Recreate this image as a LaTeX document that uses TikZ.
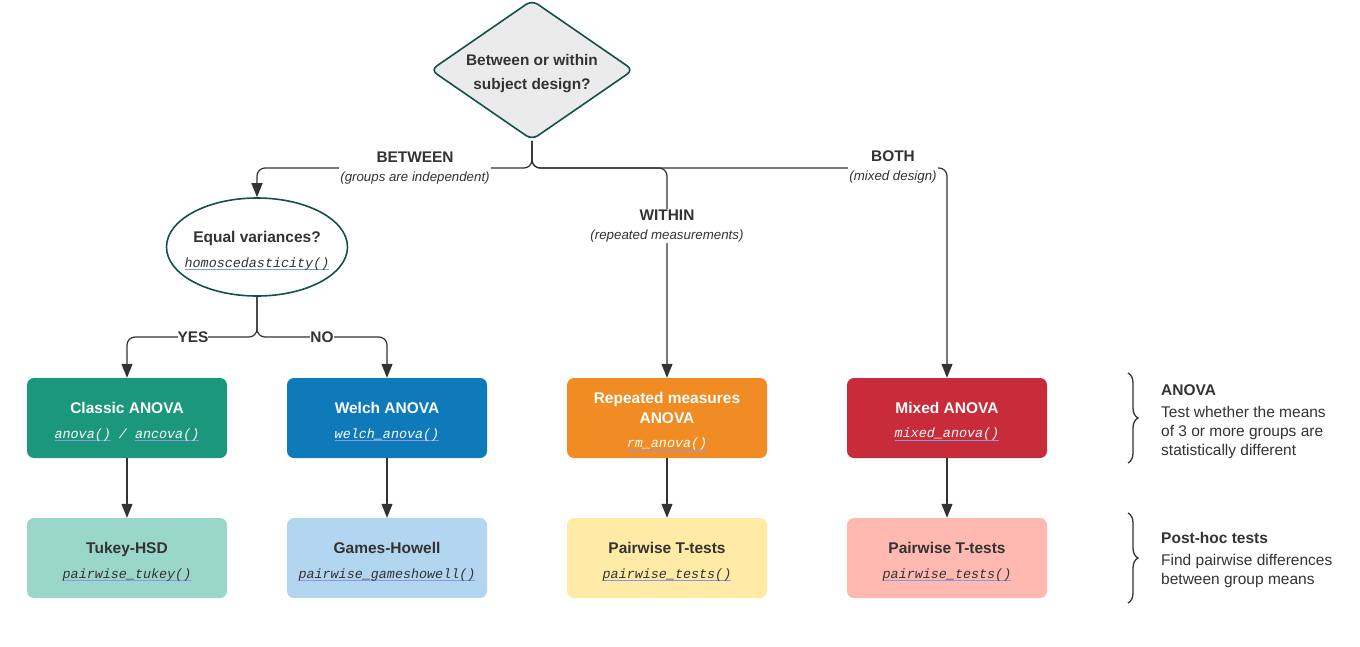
\documentclass[tikz,border=0pt]{standalone}
\usepackage{fontspec}
\setmainfont{Liberation Sans}
\newfontfamily\codefamily{Liberation Mono}
\usetikzlibrary{shapes.geometric,arrows.meta,decorations.pathreplacing}
\definecolor{ink}{HTML}{333333}
\definecolor{ulblue}{HTML}{8C96E6}
\definecolor{dgreen}{HTML}{11514A}
\definecolor{diafill}{HTML}{EBEBEB}
\definecolor{cteal}{HTML}{1B987C}
\definecolor{cblue}{HTML}{0E7AB9}
\definecolor{corange}{HTML}{F08C23}
\definecolor{cred}{HTML}{C82C3A}
\definecolor{lteal}{HTML}{9BD6CB}
\definecolor{lblue}{HTML}{B3D6F0}
\definecolor{lyellow}{HTML}{FFEBA5}
\definecolor{lpink}{HTML}{FFB9B1}
\newlength\ulwd
\newcommand\codesty{\fontsize{13.4}{20}\selectfont\codefamily\itshape\mdseries}
\newcommand\ulink[1]{\settowidth\ulwd{#1}\rlap{\textcolor{ulblue}{\rule[-3pt]{\ulwd}{0.8pt}}}#1}
\newcommand\code[1]{{\codesty\ulink{#1}}}
\newcommand\tstrut{\rule{0pt}{18pt}}
\tikzset{
  conn/.style={draw=ink, line width=1.2pt, rounded corners=8pt, -{Triangle[length=14pt,width=11pt]}},
  boxstyle/.style={rectangle, rounded corners=7pt, minimum width=200pt, minimum height=80pt,
     align=center, inner sep=0pt, font=\fontsize{15.5}{20}\selectfont\bfseries},
  darkbox/.style={boxstyle, text=white},
  lightbox/.style={boxstyle, text=ink},
  lbl/.style={fill=white, inner sep=1pt, align=center, text=ink, font=\fontsize{15.4}{20}\selectfont},
  side/.style={anchor=north west, align=left, inner sep=0pt, text=ink, font=\fontsize{15.5}{19}\selectfont},
  bracestyle/.style={draw=ink, line width=1.3pt, decorate, decoration={brace, amplitude=10pt}}
}
\begin{document}
\begin{tikzpicture}[x=1pt,y=-1pt]
\useasboundingbox (0,0) rectangle (1360,646);

% decision nodes
\node[diamond, draw=dgreen, fill=diafill, line width=1.6pt, rounded corners=7pt,
      minimum width=203pt, minimum height=140pt, inner sep=0pt, aspect=1.45,
      align=center, text=ink, font=\fontsize{15.4}{24}\selectfont\bfseries]
      (dia) at (532,70) {\tstrut\makebox[100pt]{Between or within}\\\makebox[100pt]{subject design?}};
\node[ellipse, draw=dgreen, fill=white, line width=1.6pt,
      minimum width=181pt, minimum height=98pt, inner sep=0pt,
      align=center, text=ink, font=\fontsize{15.5}{20}\selectfont\bfseries]
      (ell) at (257,247) {\tstrut\makebox[110pt]{Equal variances?}\\[5pt]\makebox[110pt]{\code{homoscedasticity()}}};

% ANOVA row
\node[darkbox, fill=cteal]   (b1) at (127,418) {\tstrut Classic ANOVA\\[5pt]\code{anova()}{\codesty\ /\ }\code{ancova()}};
\node[darkbox, fill=cblue]   (b2) at (387,418) {\tstrut Welch ANOVA\\[5pt]\code{welch\_anova()}};
\node[darkbox, fill=corange] (b3) at (667,418) {\tstrut Repeated measures\\ANOVA\\[4pt]\code{rm\_anova()}};
\node[darkbox, fill=cred]    (b4) at (947,418) {\tstrut Mixed ANOVA\\[4pt]\code{mixed\_anova()}};

% post-hoc row
\node[lightbox, fill=lteal]   (p1) at (127,558) {\tstrut Tukey-HSD\\[5pt]\code{pairwise\_tukey()}};
\node[lightbox, fill=lblue]   (p2) at (387,558) {\tstrut Games-Howell\\[5pt]\code{pairwise\_gameshowell()}};
\node[lightbox, fill=lyellow] (p3) at (667,558) {\tstrut Pairwise T-tests\\[5pt]\code{pairwise\_tests()}};
\node[lightbox, fill=lpink]   (p4) at (947,558) {\tstrut Pairwise T-tests\\[5pt]\code{pairwise\_tests()}};

% connectors from the design question
\coordinate (split) at (532,168);
\coordinate (yn) at (257,337);
\draw[conn] (dia.south) -- (split) -- (ell.north |- split) -- (ell.north);
\draw[conn] (dia.south) -- (split) -- (b3.north |- split) -- (b3.north);
\draw[conn] (dia.south) -- (split) -- (b4.north |- split) -- (b4.north);

% connectors from equal variances
\draw[conn] (ell.south) -- (yn) -- (b1.north |- yn) -- (b1.north);
\draw[conn] (ell.south) -- (yn) -- (b2.north |- yn) -- (b2.north);

% vertical connectors
\draw[conn] (b1.south) -- (p1.north);
\draw[conn] (b2.south) -- (p2.north);
\draw[conn] (b3.south) -- (p3.north);
\draw[conn] (b4.south) -- (p4.north);

% labels
\node[lbl] (lbet) at (415,168) {\textbf{BETWEEN}\\[-1pt]{\fontsize{13.3}{20}\selectfont\itshape (groups are independent)}};
\node[lbl] (lwit) at (667,226) {\textbf{WITHIN}\\[-1pt]{\fontsize{13.3}{20}\selectfont\itshape (repeated measurements)}};
\node[lbl] (lbot) at (893,167) {\textbf{BOTH}\\[-1pt]{\fontsize{13.3}{20}\selectfont\itshape (mixed design)}};
\node[lbl, inner sep=0pt, font=\fontsize{15.4}{20}\selectfont\bfseries] (lyes) at (193,337) {YES};
\node[lbl, inner sep=0pt, font=\fontsize{15.4}{20}\selectfont\bfseries] (lno) at (322,337) {NO};

% braces and side notes
\coordinate (br1a) at (1128,373);
\coordinate (br1b) at (1128,463);
\coordinate (br2a) at (1128,513);
\coordinate (br2b) at (1128,603);
\draw[bracestyle] (br1a) -- (br1b);
\draw[bracestyle] (br2a) -- (br2b);
\node[side] (s1) at (1161,384) {\textbf{ANOVA}\\[3pt]Test whether the means\\of 3 or more groups are\\statistically different};
\node[side] (s2) at (1161,532) {\textbf{Post-hoc tests}\\[3pt]Find pairwise differences\\between group means};
\end{tikzpicture}
\end{document}
